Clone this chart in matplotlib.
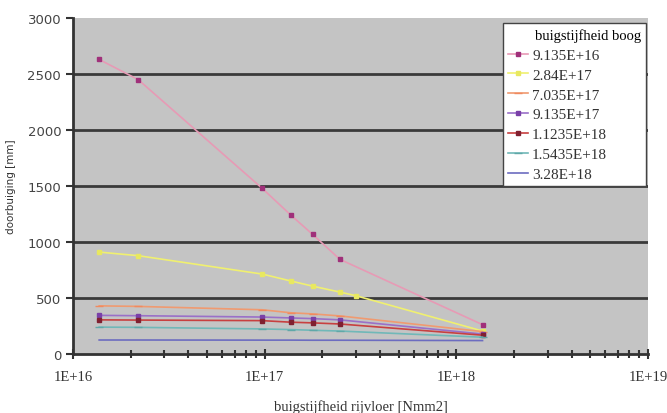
import matplotlib
matplotlib.use("Agg")
import matplotlib.pyplot as plt
from matplotlib.ticker import LogLocator, NullFormatter, FixedLocator

# stiffness of the deck (x) and deflection per arch stiffness series
x_deck = [1.37e16, 2.19e16, 9.7e16, 1.37e17, 1.78e17, 2.47e17, 1.37e18]
x_yellow = [1.37e16, 2.19e16, 9.7e16, 1.37e17, 1.78e17, 2.47e17, 3.0e17, 1.37e18]

series_labels = ["9.135E+16", "2.84E+17", "7.035E+17", "9.135E+17",
                 "1.1235E+18", "1.5435E+18", "3.28E+18"]

d_91e16 = [2630, 2450, 1480, 1240, 1068, 845, 262]
d_284e17 = [910, 878, 714, 652, 606, 553, 520, 205]
d_7035e17 = [430, 425, 395, 368, 358, 340, 200]
d_9135e17 = [345, 342, 330, 322, 316, 305, 178]
d_11235e18 = [305, 303, 298, 284, 278, 268, 168]
d_15435e18 = [240, 238, 224, 218, 212, 205, 150]
d_328e18 = [125, 125, 124, 124, 123, 123, 120]

y_ticks = [0, 500, 1000, 1500, 2000, 2500, 3000]
x_ticks = [1e16, 1e17, 1e18, 1e19]
x_tick_labels = ["1E+16", "1E+17", "1E+18", "1E+19"]

styles = [
    dict(color="#e79ab5", mfc="#a0307a", mec="#a0307a"),
    dict(color="#f0f070", mfc="#e8e860", mec="#e8e860"),
    dict(color="#f09a70", mfc="#f08a60", mec="#f08a60"),
    dict(color="#9a70c8", mfc="#7a40a8", mec="#7a40a8"),
    dict(color="#c84040", mfc="#802030", mec="#802030"),
    dict(color="#70b8b8", mfc="#60a8a8", mec="#60a8a8"),
    dict(color="#6c6cc0", mfc="#6c6cc0", mec="#6c6cc0"),
]

data = [(x_deck, d_91e16), (x_yellow, d_284e17), (x_deck, d_7035e17),
        (x_deck, d_9135e17), (x_deck, d_11235e18), (x_deck, d_15435e18),
        (x_deck, d_328e18)]

fig = plt.figure(figsize=(6.67, 4.14), dpi=100)
ax = fig.add_axes([0.1094, 0.1425, 0.8621, 0.8115])
ax.set_facecolor("#c4c4c4")

for yv in y_ticks[1:-1]:
    ax.axhline(yv, color="#3a3a3a", lw=2.0, zorder=1)

markers = ["s", "s", "_", "s", "s", "_", ""]
for (xs, ys), lab, st, mk in zip(data, series_labels, styles, markers):
    ax.plot(xs, ys, color=st["color"], lw=1.2, marker=mk, ms=3.5 if mk == "s" else 6,
            mfc=st["mfc"], mec=st["mec"], label=lab, zorder=3)

ax.set_xscale("log")
ax.set_xlim(1e16, 1e19)
ax.set_ylim(0, 3000)

ax.xaxis.set_major_locator(FixedLocator(x_ticks))
ax.set_xticklabels(x_tick_labels, family="Liberation Serif", fontsize=10.5,
                   color="#333333")
ax.xaxis.set_minor_locator(LogLocator(base=10, subs=range(2, 10)))
ax.xaxis.set_minor_formatter(NullFormatter())
ax.tick_params(axis="x", which="both", direction="inout", length=7, width=1.5,
               color="#333333", pad=8)
ax.tick_params(axis="x", which="minor", length=6)

ax.set_yticks(y_ticks)
ax.set_yticklabels([str(v) for v in y_ticks], family="DejaVu Sans", fontsize=9.5,
                   color="#444444")
ax.tick_params(axis="y", direction="out", length=5, width=1.5, color="#333333")

for side in ("top", "right"):
    ax.spines[side].set_visible(False)
for side in ("left", "bottom"):
    ax.spines[side].set_color("#333333")
    ax.spines[side].set_linewidth(2.0)

ax.set_xlabel("buigstijfheid rijvloer [Nmm2]", family="Liberation Serif",
              fontsize=10.5, labelpad=12, color="#333333")
ax.set_ylabel("doorbuiging [mm]", family="DejaVu Sans", fontsize=7.5, labelpad=8,
              color="#333333")

leg = ax.legend(title="buigstijfheid boog", loc="upper left",
                bbox_to_anchor=(0.748, 0.0, 0.249, 0.985), mode="expand",
                frameon=True, fancybox=False,
                prop={"family": "Liberation Serif", "size": 11},
                title_fontproperties={"family": "Liberation Serif", "size": 10.5},
                handlelength=1.3, handletextpad=0.25, labelspacing=0.4,
                borderpad=0.35, borderaxespad=0.0, alignment="right")
leg.get_frame().set_edgecolor("#444444")
leg.get_frame().set_linewidth(1.0)
leg.get_frame().set_facecolor("white")
leg.get_frame().set_alpha(1.0)
for t in leg.get_texts():
    t.set_color("#333333")

fig.savefig("out.png", dpi=100, facecolor="white")
